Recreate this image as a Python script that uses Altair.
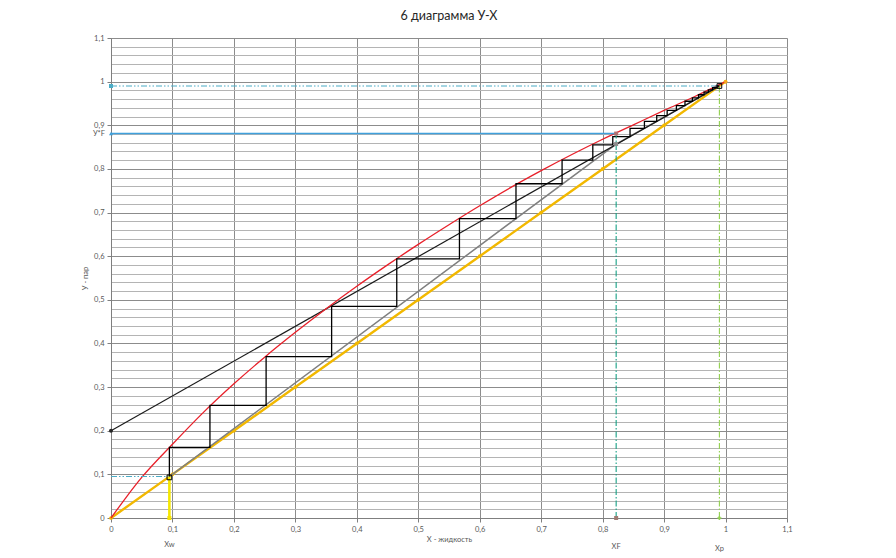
import altair as alt
import pandas as pd

# ---- data ----
eq_x = [0, 0.025, 0.05, 0.1, 0.15, 0.2, 0.25, 0.3, 0.35, 0.4, 0.45, 0.5, 0.55,
        0.6, 0.65, 0.7, 0.75, 0.8, 0.85, 0.9, 0.95, 1.0]
eq_y = [0, 0.048, 0.093, 0.169, 0.2415, 0.3075, 0.3685, 0.4255, 0.4795, 0.531, 0.580,
        0.627, 0.672, 0.7155, 0.757, 0.796, 0.833, 0.868, 0.901, 0.934, 0.966, 1.0]

diag_x = [0, 0.1, 0.2, 0.3, 0.4, 0.5, 0.6, 0.7, 0.8, 0.9, 1.0]
diag_y = [0, 0.1, 0.2, 0.3, 0.4, 0.5, 0.6, 0.7, 0.8, 0.9, 1.0]

rect_x = [0, 0.99]
rect_y = [0.2, 0.99]

strip_x = [0.095, 0.822, 0.99]
strip_y = [0.095, 0.857, 0.99]

step_x = [0.095, 0.095, 0.161, 0.161, 0.2524, 0.2524, 0.359, 0.359, 0.465, 0.465,
          0.567, 0.567, 0.659, 0.659, 0.734, 0.734, 0.784, 0.784, 0.8165, 0.8165,
          0.8446, 0.8446, 0.868, 0.868, 0.888, 0.888, 0.905, 0.905, 0.920, 0.920,
          0.934, 0.934, 0.946, 0.946, 0.956, 0.956, 0.965, 0.965, 0.972, 0.972,
          0.979, 0.979, 0.985, 0.985, 0.99]
step_y = [0.093, 0.162, 0.162, 0.258, 0.258, 0.370, 0.370, 0.485, 0.485, 0.594,
          0.594, 0.686, 0.686, 0.766, 0.766, 0.820, 0.820, 0.855, 0.855, 0.874,
          0.874, 0.893, 0.893, 0.909, 0.909, 0.922, 0.922, 0.934, 0.934, 0.945,
          0.945, 0.955, 0.955, 0.963, 0.963, 0.970, 0.970, 0.976, 0.976, 0.981,
          0.981, 0.986, 0.986, 0.990, 0.990]

xw, xf, xp = 0.095, 0.822, 0.99
yw, yf, yp = 0.095, 0.881, 0.99

x_ticks = [0, 0.1, 0.2, 0.3, 0.4, 0.5, 0.6, 0.7, 0.8, 0.9, 1.0, 1.1]
y_ticks = [round(i * 0.02, 2) for i in range(56)]

mk_x = [0, 0, 0, xw, xf, xp, xf, xf, 1.0]
mk_y = [0.2, yp, yf, 0, 0, 0, yf, 0.857, 1.0]
mk_shape = ["circle", "square", "triangle-up", "square", "square", "cross", "square", "square", "diamond"]
mk_color = ["#262626", "#4bacc6", "#3fa0dc", "#f5e100", "#9e7b72", "#92d050", "#b07070", "#8c8c8c", "#f5a623"]

lab_text = ["Xw", "XF", "Xp"]
lab_x = [xw, xf, xp]
lab_dy = [27, 29, 31]

LABEL_FONT = "Lato"
GRAY = "#595959"
major = "abs(datum.value*10 - round(datum.value*10)) < 0.001"
lbl = "replace(format(datum.value, '.1~f'), '.', ',')"

sx = alt.Scale(domain=[0, 1.1], nice=False, zero=False)
sy = alt.Scale(domain=[0, 1.1], nice=False, zero=False)

xaxis = alt.Axis(values=x_ticks, labelExpr=lbl, grid=True, gridColor="#8c8c8c",
                 domainColor="#7f7f7f", tickColor="#7f7f7f", tickSize=4,
                 labelFont=LABEL_FONT, labelFontSize=7.5, labelColor=GRAY,
                 labelPadding=3, labelFlush=False, labelOverlap=False,
                 title="Х - жидкость", titleFont=LABEL_FONT, titleFontSize=7.5,
                 titleFontWeight="normal", titleColor=GRAY, titlePadding=3)
yaxis = alt.Axis(values=y_ticks, labelExpr=major + " ? " + lbl + " : ''",
                 grid=True,
                 gridColor={"condition": {"test": major, "value": "#8c8c8c"}, "value": "#b4b4b4"},
                 domainColor="#7f7f7f", tickColor="#7f7f7f",
                 tickSize={"condition": {"test": major, "value": 4}, "value": 0},
                 labelFont=LABEL_FONT, labelFontSize=7.5, labelColor=GRAY,
                 labelPadding=3, labelFlush=False, labelOverlap=False,
                 title="У - пар", titleFont=LABEL_FONT, titleFontSize=7.5,
                 titleFontWeight="normal", titleColor=GRAY, titlePadding=4)


def X(f="x"):
    return alt.X(f"{f}:Q", scale=sx, axis=xaxis)


def Y(f="y"):
    return alt.Y(f"{f}:Q", scale=sy, axis=yaxis)


def line(xs, ys, color, width, dash=None, interp="linear"):
    df = pd.DataFrame({"x": xs, "y": ys, "i": list(range(len(xs)))})
    kw = dict(color=color, strokeWidth=width, interpolate=interp, clip=False)
    if dash:
        kw["strokeDash"] = dash
    return alt.Chart(df).mark_line(**kw).encode(x=X(), y=Y(), order=alt.Order("i:Q"))


diag = line(diag_x, diag_y, "#f2b800", 2.4)
diag_pts = alt.Chart(pd.DataFrame({"x": diag_x, "y": diag_y})).mark_point(
    filled=True, size=14, color="#f2b800", opacity=1).encode(x=X(), y=Y())
strip = line(strip_x, strip_y, "#7f7f7f", 1.5)
rect = line(rect_x, rect_y, "#1a1a1a", 1.2)
eq = line(eq_x, eq_y, "#e8202a", 1.3, interp="monotone")
steps = line(step_x, step_y, "#000000", 1.3)

yp_line = line([0, xp], [yp, yp], "#4bacc6", 1.1, [6, 2, 1.5, 2, 1.5, 2])
yf_line = line([0, xf], [yf, yf], "#3fa0dc", 1.5)
yw_line = line([0, xw], [yw, yw], "#4bacc6", 1.1, [6, 2, 1.5, 2, 1.5, 2])
xw_line = line([xw, xw], [0, yw], "#f5e800", 2.6)
xf_line = line([xf, xf], [0, yf], "#16a085", 1.1, [6, 2, 1.5, 2])
xp_line = line([xp, xp], [0, yp], "#92d050", 1.1, [6, 2, 1.5, 2])

mk_df = pd.DataFrame({"x": mk_x, "y": mk_y, "shape": mk_shape, "color": mk_color})
markers = alt.Chart(mk_df).mark_point(filled=True, size=16, opacity=1).encode(
    x=X(), y=Y(), shape=alt.Shape("shape:N", scale=None),
    color=alt.Color("color:N", scale=None))
start_mk = alt.Chart(pd.DataFrame({"x": [xw, xp], "y": [0.093, xp]})).mark_point(
    shape="square", size=22, color="#000000", strokeWidth=1, filled=False, opacity=1
).encode(x=X(), y=Y())

lab_df = pd.DataFrame({"x": lab_x, "y": [0, 0, 0], "t": lab_text, "dy": lab_dy})
labels = alt.layer(*[
    alt.Chart(lab_df.iloc[[k]]).mark_text(
        font=LABEL_FONT, fontSize=7.5, color=GRAY, dy=lab_dy[k], clip=False
    ).encode(x=X(), y=Y(), text="t:N")
    for k in range(len(lab_text))
])
yf_label = alt.Chart(pd.DataFrame({"x": [0], "y": [yf], "t": ["У*F"]})).mark_text(
    font=LABEL_FONT, fontSize=7.5, color=GRAY, align="right", dx=-6, dy=0, clip=False
).encode(x=X(), y=Y(), text="t:N")

chart = alt.layer(
    diag, diag_pts, strip, rect, eq, steps,
    yp_line, yf_line, yw_line, xw_line, xf_line, xp_line,
    markers, start_mk, labels, yf_label
).properties(
    width=676, height=480,
    title=alt.TitleParams("6 диаграмма У-Х", font=LABEL_FONT, fontSize=12.5,
                          fontWeight="normal", color="#262626", anchor="middle", offset=12),
    autosize=alt.AutoSizeParams(type="none"),
    padding={"left": 103, "top": 30, "right": 93, "bottom": 36},
).configure_view(stroke=None).configure(background="white")

chart.save("out.html", embed_options={"renderer": "svg", "actions": False})
